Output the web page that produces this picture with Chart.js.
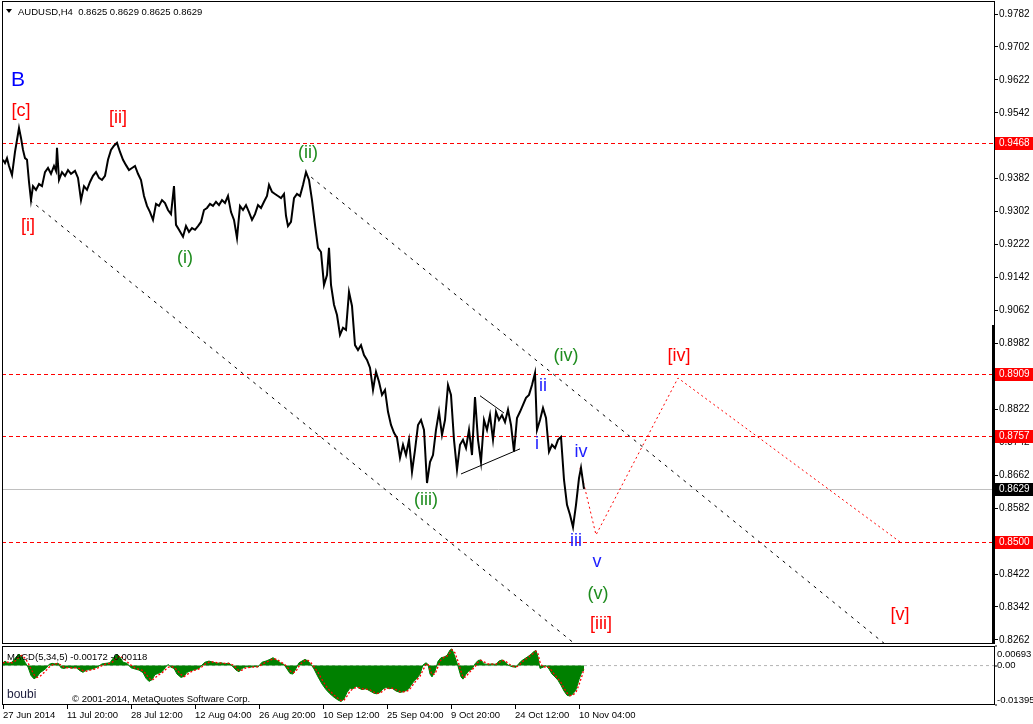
<!DOCTYPE html>
<html><head><meta charset="utf-8">
<script src="https://cdn.jsdelivr.net/npm/chart.js@4.4.0/dist/chart.umd.min.js"></script>
<style>
html,body{margin:0;padding:0;background:#fff;}
#wrap{position:relative;width:1033px;height:724px;overflow:hidden;background:#fff;}
#c1{position:absolute;left:0;top:0;}
#c2{position:absolute;left:0;top:645px;}
</style></head><body>
<div id="wrap"><canvas id="c1" width="1033" height="645"></canvas><canvas id="c2" width="1033" height="79"></canvas></div>
<script>
// ---------- DATA ----------
const symbolTitle = 'AUDUSD,H4  0.8625 0.8629 0.8625 0.8629';
const priceBars = [
 3,5,7,9,12,15,17,19,21,23, 25,27,29,31,33,36,39,42,45,48,
 51,54,56,57,59,62,65,68,71,75, 78,81,84,87,90,93,96,99,102,105,
 108,111,114,117,120,123,126,129,132,135, 138,141,144,147,150,153,156,159,162,165,
 168,171,174,176,179,183,186,189,192,195, 198,201,204,207,210,213,216,219,222,225,
 228,231,234,237,240,243,246,249,252,255, 258,261,264,267,269,272,275,278,281,284,
 286,288,291,294,297,300,303,306,309,312, 315,318,321,324,327,329,331,334,337,340,
 343,346,349,352,355,358,361,364,367,370, 373,376,379,382,385,388,391,394,397,400,
 403,406,409,412,415,418,421,424,427,430, 433,436,439,442,445,448,451,454,457,460,
 463,466,469,472,475,478,481,484,487,490, 493,496,499,502,505,508,511,514,517,520,
 523,526,529,532,535,537,540,543,546,549, 552,555,558,561,564,567,570,573,576,579,
 581,584
];
const priceClose = [
 0.9428,0.9420,0.9432,0.9413,0.9391,0.9447,0.9476,0.9505,0.9481,0.9452, 0.9432,0.9428,0.9374,0.9330,0.9364,0.9355,0.9369,0.9364,0.9398,0.9408,
 0.9394,0.9413,0.9401,0.9457,0.9379,0.9398,0.9389,0.9403,0.9394,0.9401, 0.9384,0.9330,0.9364,0.9355,0.9374,0.9389,0.9398,0.9384,0.9379,0.9389,
 0.9428,0.9452,0.9462,0.9469,0.9447,0.9428,0.9415,0.9403,0.9408,0.9413, 0.9394,0.9379,0.9340,0.9316,0.9301,0.9282,0.9321,0.9316,0.9330,0.9323,
 0.9306,0.9296,0.9364,0.9270,0.9258,0.9241,0.9267,0.9253,0.9262,0.9258, 0.9267,0.9277,0.9306,0.9311,0.9321,0.9316,0.9326,0.9318,0.9330,0.9323,
 0.9340,0.9301,0.9282,0.9238,0.9316,0.9306,0.9318,0.9301,0.9282,0.9296, 0.9318,0.9311,0.9326,0.9340,0.9367,0.9350,0.9345,0.9340,0.9335,0.9345,
 0.9292,0.9267,0.9277,0.9335,0.9345,0.9340,0.9367,0.9398,0.9379,0.9330, 0.9270,0.9214,0.9204,0.9124,0.9148,0.9214,0.9124,0.9076,0.9051,0.9003,
 0.9020,0.9015,0.9107,0.9073,0.8978,0.8966,0.8978,0.8954,0.8942,0.8923, 0.8869,0.8913,0.8889,0.8857,0.8869,0.8816,0.8784,0.8765,0.8753,0.8704,
 0.8736,0.8711,0.8748,0.8670,0.8723,0.8784,0.8796,0.8772,0.8643,0.8694, 0.8711,0.8772,0.8816,0.8760,0.8796,0.8881,0.8857,0.8748,0.8675,0.8736,
 0.8748,0.8728,0.8772,0.8711,0.8852,0.8748,0.8694,0.8796,0.8772,0.8808, 0.8748,0.8816,0.8796,0.8808,0.8791,0.8821,0.8784,0.8719,0.8801,0.8816,
 0.8833,0.8850,0.8857,0.8881,0.8910,0.8772,0.8796,0.8825,0.8801,0.8719, 0.8736,0.8728,0.8748,0.8755,0.8651,0.8590,0.8566,0.8536,0.8590,0.8655,
 0.8680,0.8629
];
const priceTicks = [0.8262,0.8342,0.8422,0.8502,0.8582,0.8662,0.8742,0.8822,0.8902,0.8982,0.9062,0.9142,0.9222,0.9302,0.9382,0.9462,0.9542,0.9622,0.9702,0.9782];
const priceMin = 0.825213, priceMax = 0.981357;
const levelValues = [0.9468, 0.8909, 0.8757, 0.8500];
const lastPrice = 0.8629;
const channelUpperBars = [305, 885], channelUpperPrices = [0.9398, 0.8252];
const channelLowerBars = [30, 575],  channelLowerPrices = [0.9330, 0.8252];
const triUpperBars = [480, 504], triUpperPrices = [0.8855, 0.8813];
const triLowerBars = [461, 520], triLowerPrices = [0.8665, 0.8726];
const projBars = [580, 596, 678, 900], projPrices = [0.8680, 0.8517, 0.8898, 0.8500];

const waveTexts  = ['B','[c]','[ii]','[i]','(i)','(ii)','(iii)','(iv)','(v)','[iii]','[iv]','[v]','ii','i','iv','iii','v'];
const waveBars   = [18,21,118,28,185,308,426,566,598,601,679,900,543,537,581,576,597];
const wavePrices = [0.9622,0.9547,0.9530,0.9267,0.9190,0.9445,0.8602,0.8952,0.8374,0.8301,0.8952,0.8323,0.8879,0.8738,0.8719,0.8502,0.8451];
const waveDegree = ['B','R','R','R','G','G','G','G','G','R','R','R','b','b','b','b','b'];

const timeTickBars = [3,67,131,195,259,323,387,451,515,579];
const timeTickLabels = ['27 Jun 2014','11 Jul 20:00','28 Jul 12:00','12 Aug 04:00','26 Aug 20:00','10 Sep 12:00','25 Sep 04:00','9 Oct 20:00','24 Oct 12:00','10 Nov 04:00'];

const macdBars = [
 3,5,8,12,16,19,22,25,28,31, 34,37,40,43,46,49,52,55,58,61,
 64,68,72,76,80,83,86,90,94,98, 102,106,110,114,117,120,123,127,131,135,
 139,143,146,149,152,155,158,162,165,168, 171,174,177,181,184,187,191,195,199,202,
 205,209,213,217,221,225,229,233,236,239, 242,246,250,254,258,262,266,270,273,277,
 281,284,287,290,293,296,299,302,305,308, 311,314,318,322,326,330,334,338,341,344,
 347,350,353,356,359,362,366,370,374,377, 380,383,386,389,392,396,400,404,408,411,
 414,417,420,423,426,428,430,432,435,438, 441,444,447,450,452,455,458,461,463,466,
 469,472,475,478,481,484,488,492,496,499, 502,505,508,512,516,519,522,525,528,531,
 534,536,538,540,543,546,549,552,555,558, 561,564,567,570,573,576,579,582,584
];
const macdHist = [
 0.0010,0.0016,0.0008,0.0012,0.0030,0.0041,0.0030,0.0012,-0.0005,-0.0035, -0.0047,-0.0040,-0.0025,-0.0018,-0.0010,0.0004,0.0008,0.0006,0.0009,-0.0008,
 -0.0010,-0.0006,-0.0009,-0.0007,-0.0018,-0.0024,-0.0016,-0.0014,-0.0010,-0.0004, 0.0006,0.0008,0.0010,0.0030,0.0040,0.0030,0.0012,0.0008,-0.0008,-0.0012,
 -0.0016,-0.0025,-0.0045,-0.0056,-0.0050,-0.0032,-0.0028,-0.0022,-0.0008,0.0004, -0.0006,-0.0010,-0.0030,-0.0042,-0.0038,-0.0024,-0.0018,-0.0014,-0.0010,0.0002,
 0.0012,0.0016,0.0012,0.0008,0.0010,0.0006,0.0009,-0.0004,-0.0016,-0.0022, -0.0010,-0.0004,-0.0006,-0.0003,-0.0005,0.0012,0.0016,0.0022,0.0028,0.0018,
 0.0008,0.0004,-0.0012,-0.0028,-0.0030,-0.0010,0.0010,0.0016,0.0022,0.0016, 0.0004,-0.0012,-0.0040,-0.0065,-0.0085,-0.0100,-0.0112,-0.0122,-0.0127,-0.0118,
 -0.0095,-0.0080,-0.0082,-0.0072,-0.0080,-0.0085,-0.0082,-0.0090,-0.0098,-0.0100, -0.0095,-0.0082,-0.0078,-0.0082,-0.0080,-0.0090,-0.0095,-0.0092,-0.0085,-0.0070,
 -0.0055,-0.0045,-0.0030,0.0002,0.0010,0.0004,-0.0030,-0.0040,-0.0020,0.0015, 0.0028,0.0030,0.0036,0.0055,0.0059,0.0030,-0.0002,-0.0040,-0.0048,-0.0030,
 -0.0018,-0.0012,0.0006,0.0018,0.0020,0.0006,0.0004,0.0006,0.0004,0.0016, 0.0020,0.0014,0.0002,-0.0004,-0.0006,0.0008,0.0018,0.0025,0.0032,0.0040,
 0.0050,0.0053,0.0030,-0.0010,-0.0006,0.0000,-0.0012,-0.0030,-0.0040,-0.0052, -0.0070,-0.0090,-0.0105,-0.0108,-0.0100,-0.0085,-0.0050,-0.0020,-0.0017
];
const macdSignal = [
 0.0009,0.0012,0.0012,0.0010,0.0018,0.0030,0.0036,0.0026,0.0010,-0.0012, -0.0032,-0.0042,-0.0038,-0.0028,-0.0018,-0.0006,0.0002,0.0006,0.0007,0.0002,
 -0.0006,-0.0008,-0.0008,-0.0008,-0.0011,-0.0018,-0.0020,-0.0016,-0.0013,-0.0008, 0.0000,0.0006,0.0008,0.0016,0.0028,0.0034,0.0026,0.0014,0.0002,-0.0008,
 -0.0013,-0.0018,-0.0030,-0.0045,-0.0052,-0.0044,-0.0034,-0.0026,-0.0016,-0.0006, -0.0003,-0.0006,-0.0016,-0.0032,-0.0039,-0.0032,-0.0022,-0.0016,-0.0012,-0.0004,
 0.0005,0.0012,0.0013,0.0010,0.0009,0.0008,0.0008,0.0002,-0.0008,-0.0018, -0.0016,-0.0008,-0.0006,-0.0005,-0.0004,0.0004,0.0012,0.0018,0.0024,0.0022,
 0.0012,0.0006,-0.0004,-0.0018,-0.0026,-0.0020,-0.0002,0.0010,0.0018,0.0018, 0.0010,-0.0004,-0.0024,-0.0050,-0.0072,-0.0090,-0.0104,-0.0116,-0.0124,-0.0122,
 -0.0108,-0.0090,-0.0082,-0.0078,-0.0078,-0.0082,-0.0083,-0.0086,-0.0094,-0.0098, -0.0097,-0.0090,-0.0081,-0.0080,-0.0080,-0.0085,-0.0092,-0.0093,-0.0089,-0.0078,
 -0.0063,-0.0050,-0.0038,-0.0016,0.0004,0.0006,-0.0012,-0.0032,-0.0030,-0.0004, 0.0020,0.0029,0.0033,0.0045,0.0056,0.0045,0.0015,-0.0020,-0.0042,-0.0040,
 -0.0025,-0.0015,-0.0004,0.0012,0.0019,0.0013,0.0006,0.0005,0.0005,0.0010, 0.0018,0.0017,0.0008,-0.0001,-0.0005,0.0000,0.0012,0.0021,0.0028,0.0036,
 0.0045,0.0051,0.0042,0.0012,-0.0006,-0.0004,-0.0006,-0.0020,-0.0034,-0.0046, -0.0060,-0.0080,-0.0097,-0.0106,-0.0104,-0.0094,-0.0068,-0.0036,-0.0012
];
const macdMin = -0.01395, macdMax = 0.00693;
const macdAxisValues = [0.00693, 0, -0.01395];
const macdAxisLabels = ['0.00693', '0.00', '-0.01395'];
const macdTitle = 'MACD(5,34,5) -0.00172 -0.00118';

// ---------- HELPERS ----------
const FONT = "'Liberation Sans', Arial, sans-serif";
Chart.defaults.font.family = FONT;
const pts = (xs, ys) => xs.map((x, i) => ({x: x, y: ys[i]}));
const XMIN = 2, XMAX = 995;
const lineDs = (data, color, width, dash) => ({data, borderColor: color, borderWidth: width, borderDash: dash || [], pointRadius: 0, fill: false, tension: 0});
const degreeColor = {B: '#0000ff', R: '#ff0000', G: '#1e8c1e', b: '#2020ff'};
const degreeSize = {B: 21, R: 18, G: 18, b: 18};
const noPad = s => { s.paddingTop = 0; s.paddingBottom = 0; s.paddingLeft = 0; s.paddingRight = 0; };

const hLine = (ctx, a, y, color, dash) => {
  ctx.save();
  ctx.strokeStyle = color; ctx.lineWidth = 1; ctx.setLineDash(dash);
  ctx.beginPath(); ctx.moveTo(a.left, y); ctx.lineTo(a.right, y); ctx.stroke();
  ctx.restore();
};

const levelsPlugin = {
  id: 'levels',
  beforeDatasetsDraw(chart) {
    const {ctx, chartArea: a} = chart;
    const ys = chart.scales.y;
    hLine(ctx, a, Math.round(ys.getPixelForValue(lastPrice)) + 0.5, '#c0c0c0', []);
    levelValues.forEach(v => hLine(ctx, a, Math.round(ys.getPixelForValue(v)) + 0.5, '#ff0000', [4, 3]));
  }
};

const overlayMain = {
  id: 'overlayMain',
  afterDraw(chart) {
    const {ctx, chartArea: a} = chart;
    const xs = chart.scales.x, ys = chart.scales.y;
    ctx.save();
    ctx.textAlign = 'center'; ctx.textBaseline = 'middle';
    waveTexts.forEach((t, i) => {
      const d = waveDegree[i];
      ctx.fillStyle = degreeColor[d];
      ctx.font = degreeSize[d] + 'px ' + FONT;
      ctx.fillText(t, xs.getPixelForValue(waveBars[i]), ys.getPixelForValue(wavePrices[i]));
    });
    ctx.strokeStyle = '#000'; ctx.lineWidth = 1;
    ctx.strokeRect(a.left + 0.5, a.top + 0.5, a.right - a.left - 1, a.bottom - a.top - 1);
    ctx.fillStyle = '#000';
    ctx.fillRect(a.right - 3, 325, 3, a.bottom - 325);
    ctx.font = '10px ' + FONT; ctx.textAlign = 'left'; ctx.textBaseline = 'middle';
    const box = (v, bg) => {
      const y = Math.round(ys.getPixelForValue(v));
      ctx.fillStyle = bg; ctx.fillRect(a.right, y - 6, 1033 - a.right, 13);
      ctx.fillStyle = '#fff'; ctx.fillText(v.toFixed(4), a.right + 4, y + 0.5);
    };
    levelValues.forEach(v => box(v, '#ff0000'));
    box(lastPrice, '#000000');
    ctx.fillStyle = '#000';
    ctx.beginPath(); ctx.moveTo(6, 9); ctx.lineTo(12, 9); ctx.lineTo(9, 13); ctx.closePath(); ctx.fill();
    ctx.font = '9.5px ' + FONT; ctx.textBaseline = 'alphabetic';
    ctx.fillText(symbolTitle, 18, 15);
    ctx.restore();
  }
};

const overlayMacd = {
  id: 'overlayMacd',
  afterDraw(chart) {
    const {ctx, chartArea: a} = chart;
    const ys = chart.scales.y;
    ctx.save();
    ctx.strokeStyle = '#000'; ctx.lineWidth = 1;
    ctx.strokeRect(a.left + 0.5, a.top + 0.5, a.right - a.left - 1, a.bottom - a.top - 1);
    ctx.fillStyle = '#000';
    ctx.font = '9.5px ' + FONT; ctx.textAlign = 'left'; ctx.textBaseline = 'middle';
    macdAxisValues.forEach((v, i) => {
      const py = ys.getPixelForValue(v);
      const ly = Math.min(Math.max(py, a.top + 8), a.bottom - 5);
      ctx.fillRect(a.right, Math.round(py) - 0.5, 2, 1);
      ctx.fillText(macdAxisLabels[i], a.right + 2, ly);
    });
    ctx.textBaseline = 'alphabetic';
    ctx.font = '9.5px ' + FONT;
    ctx.fillText(macdTitle, 7, 15);
    ctx.fillStyle = '#1c1c3c';
    ctx.font = '12px ' + FONT;
    ctx.fillText('boubi', 7, 53);
    ctx.fillStyle = '#000';
    ctx.font = '9.5px ' + FONT;
    ctx.fillText('\u00A9 2001-2014, MetaQuotes Software Corp.', 72, 57);
    ctx.restore();
  }
};

// ---------- MAIN CHART ----------
const mainDatasets = [
  lineDs(pts(priceBars, priceClose), '#000000', 2),
  lineDs(pts(projBars, projPrices), '#ff0000', 1, [2, 3]),
  lineDs(pts(channelUpperBars, channelUpperPrices), '#000000', 1, [3, 5]),
  lineDs(pts(channelLowerBars, channelLowerPrices), '#000000', 1, [3, 5]),
  lineDs(pts(triUpperBars, triUpperPrices), '#000000', 1),
  lineDs(pts(triLowerBars, triLowerPrices), '#000000', 1)
];

new Chart(document.getElementById('c1'), {
  type: 'line',
  data: {datasets: mainDatasets},
  options: {
    responsive: false, animation: false, devicePixelRatio: 1,
    layout: {padding: {left: 2, top: 1, right: 0, bottom: 1}},
    plugins: {legend: {display: false}, tooltip: {enabled: false}},
    scales: {
      x: {type: 'linear', min: XMIN, max: XMAX, display: false},
      y: {
        position: 'right', min: priceMin, max: priceMax,
        afterFit: s => { s.width = 38; noPad(s); },
        afterBuildTicks: s => { s.ticks = priceTicks.map(v => ({value: v})); },
        ticks: {autoSkip: false, padding: 1, color: '#000', font: {size: 10}, callback: v => Number(v).toFixed(4)},
        grid: {drawOnChartArea: false, drawTicks: true, tickLength: 3, color: '#000'},
        border: {display: false}
      }
    }
  },
  plugins: [levelsPlugin, overlayMain]
});

// ---------- MACD CHART ----------
new Chart(document.getElementById('c2'), {
  type: 'line',
  data: {datasets: [
    lineDs(pts(macdBars, macdSignal), '#ff0000', 1.3, [2, 2]),
    {data: pts(macdBars, macdHist), borderColor: '#008000', borderWidth: 1, backgroundColor: '#008000', fill: 'origin', pointRadius: 0, tension: 0},
    lineDs(pts([XMIN, XMAX], [0, 0]), '#b4b4b4', 1, [3, 3])
  ]},
  options: {
    responsive: false, animation: false, devicePixelRatio: 1,
    layout: {padding: {left: 2, top: 1, right: 0, bottom: 0}},
    plugins: {legend: {display: false}, tooltip: {enabled: false}},
    scales: {
      x: {
        type: 'linear', min: XMIN, max: XMAX, position: 'bottom',
        afterFit: s => { s.height = 19; noPad(s); },
        afterBuildTicks: s => { s.ticks = timeTickBars.map(v => ({value: v})); },
        ticks: {autoSkip: false, maxRotation: 0, minRotation: 0, align: 'start', padding: 1, color: '#000', font: {size: 9.5},
                callback: (v, i) => timeTickLabels[i]},
        grid: {drawOnChartArea: false, drawTicks: true, tickLength: 4, color: '#000'},
        border: {display: false}
      },
      y: {
        position: 'right', min: macdMin, max: macdMax,
        afterFit: s => { s.width = 38; noPad(s); },
        ticks: {display: false}, grid: {display: false}, border: {display: false}
      }
    }
  },
  plugins: [overlayMacd]
});
</script>
</body></html>
